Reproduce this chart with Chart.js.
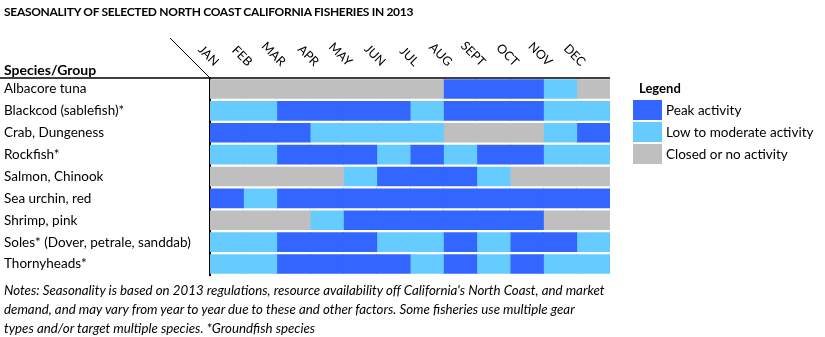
<!DOCTYPE html>
<html lang="en">
<head>
    <meta charset="UTF-8">
    <title>Seasonality of selected North Coast fisheries</title>
    <script src="https://cdn.jsdelivr.net/npm/chart.js"></script>
    <style>
        body { margin: 0; background: #fff; font-family: Lato, sans-serif; color: #000; }
        .tela { position: relative; width: 825px; height: 337px; overflow: hidden; }
        .titulo { position: absolute; left: 4px; top: 4px; font: bold 12px Lato, sans-serif; letter-spacing: -0.3px; white-space: nowrap; }
        .grupo { position: absolute; left: 4px; top: 61px; font: bold 14px Lato, sans-serif; }
        .caixa { position: absolute; left: 0; top: 0; width: 825px; height: 290px; }
        .legenda { position: absolute; left: 633px; top: 80px; font: 13.5px Lato, sans-serif; }
        .legenda b { display: block; margin: 0 0 4px 6px; font-size: 13px; }
        .item { display: flex; align-items: center; height: 20px; margin-bottom: 2px; }
        .item span { display: inline-block; width: 29px; height: 20px; margin-right: 4px; }
        .notas { position: absolute; left: 4px; top: 281px; font: italic 13.3px Lato, sans-serif; line-height: 19px; white-space: nowrap; }
    </style>
</head>
<body>
    <div class="tela">
        <div class="caixa"><canvas id="grafico"></canvas></div>
        <div class="titulo">SEASONALITY OF SELECTED NORTH COAST CALIFORNIA FISHERIES IN 2013</div>
        <div class="grupo">Species/Group</div>
        <div class="legenda" id="legenda"><b>Legend</b></div>
        <div class="notas">Notes: Seasonality is based on 2013 regulations, resource availability off California's North Coast, and market<br>demand, and may vary from year to year due to these and other factors. Some fisheries use multiple gear<br>types and/or target multiple species. *Groundfish species</div>
    </div>
<script>
    // dados
    const especies = ['Albacore tuna', 'Blackcod (sablefish)*', 'Crab, Dungeness', 'Rockfish*', 'Salmon, Chinook',
        'Sea urchin, red', 'Shrimp, pink', 'Soles* (Dover, petrale, sanddab)', 'Thornyheads*'];
    const meses = ['JAN', 'FEB', 'MAR', 'APR', 'MAY', 'JUN', 'JUL', 'AUG', 'SEPT', 'OCT', 'NOV', 'DEC'];
    // P = peak, L = low to moderate, C = closed
    const temporadas = [
        'CCCCCCCPPPLC',
        'LLPPPPLPPPLL',
        'PPPLLLLCCCLP',
        'LLPPPLPLPPLL',
        'CCCCLPPPLCCC',
        'PLPPPPPPPPPP',
        'CCCLPPPPPPCC',
        'LLPPPLLPLPPL',
        'LLPPPPLPLPLL'
    ];
    const niveis = ['P', 'L', 'C'];
    const nomesNiveis = ['Peak activity', 'Low to moderate activity', 'Closed or no activity'];

    const cores = { P: '#3366FF', L: '#66CCFF', C: '#BFBFBF' };

    // legenda em html
    const leg = document.getElementById('legenda');
    for (var i = 0; i < niveis.length; i++) {
        const d = document.createElement('div');
        d.className = 'item';
        d.innerHTML = '<span style="background:' + cores[niveis[i]] + '"></span>' + nomesNiveis[i];
        leg.appendChild(d);
    }

    const datasets = [];
    for (var m = 0; m < meses.length; m++) {
        datasets.push({
            label: meses[m],
            data: especies.map(() => 1),
            backgroundColor: temporadas.map(t => cores[t[m]]),
            borderWidth: 0,
            inflateAmount: 0.5,
            barPercentage: 0.85,
            categoryPercentage: 1
        });
    }

    const linhas = {
        id: 'linhas',
        afterDraw(chart) {
            const ctx = chart.ctx;
            const area = chart.chartArea;
            const x = chart.scales.x;
            ctx.save();
            ctx.strokeStyle = '#000';
            ctx.lineWidth = 1.5;
            ctx.beginPath();
            ctx.moveTo(0, area.top);
            ctx.lineTo(area.right, area.top);
            ctx.stroke();
            ctx.lineWidth = 1;
            ctx.beginPath();
            ctx.moveTo(area.left - 40, area.top - 40);
            ctx.lineTo(area.left, area.top);
            ctx.stroke();
            // meses inclinados
            ctx.fillStyle = '#000';
            ctx.font = '12.5px Lato';
            ctx.textAlign = 'right';
            ctx.textBaseline = 'middle';
            for (var i = 0; i < meses.length; i++) {
                const cx = x.getPixelForValue(i + 0.5);
                ctx.save();
                ctx.translate(cx - 10, area.top - 14);
                ctx.rotate(Math.PI / 4);
                ctx.fillText(meses[i], 0, 0);
                ctx.restore();
            }
            ctx.restore();
        }
    };

    new Chart(document.getElementById('grafico'), {
        type: 'bar',
        data: { labels: especies, datasets: datasets },
        options: {
            indexAxis: 'y',
            responsive: true,
            maintainAspectRatio: false,
            animation: false,
            layout: { padding: { left: 4, top: 78, right: 215, bottom: 15 } },
            plugins: { legend: { display: false }, tooltip: { enabled: false } },
            scales: {
                x: { stacked: true, min: 0, max: 12, display: false },
                y: {
                    stacked: true,
                    grid: { display: false },
                    border: { display: true, color: '#000', width: 2 },
                    ticks: { color: '#000', font: { family: 'Lato', size: 13.5 }, crossAlign: 'far', padding: 0 },
                    afterFit(s) { s.width = 206; }
                }
            }
        },
        plugins: [linhas]
    });
</script>
</body>
</html>
